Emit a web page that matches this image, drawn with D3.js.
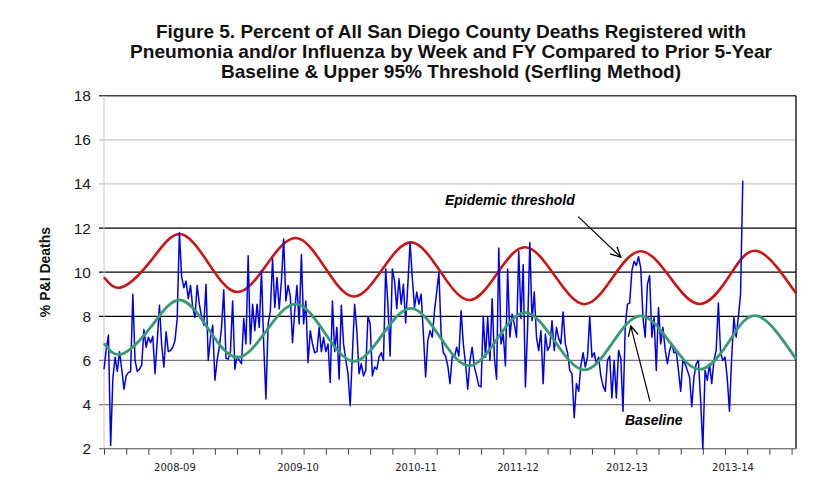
<!DOCTYPE html>
<html>
<head>
<meta charset="utf-8">
<script src="https://cdn.jsdelivr.net/npm/d3@7"></script>
<style>
  body { margin: 0; background: #fff; }
  svg { display: block; font-family: Arial, "Liberation Sans", sans-serif; }
</style>
</head>
<body>
<svg id="chart" width="837" height="486"></svg>
<script>
// title, axis text
const titleLines = [
  "Figure 5. Percent of All San Diego County Deaths Registered with",
  "Pneumonia and/or Influenza by Week and FY Compared to Prior 5-Year",
  "Baseline & Upper 95% Threshold (Serfling Method)"
];
const yLabel = "% P&I Deaths";
const yTicks = [2, 4, 6, 8, 10, 12, 14, 16, 18];

// fiscal year labels and the week they sit under
const fyLabels = ["2008-09", "2009-10", "2010-11", "2011-12", "2012-13", "2013-14"];
const fyLabelWeeks = [32, 87.5, 140.7, 186.7, 235.8, 283.6];

// weekly % of deaths with P&I (week 0 = first week on the chart)
const pniPercent = [
  5.6, 6.5, 7.15, 2.15, 5.2, 6.15, 5.5, 6.4, 5.6, 4.7,
  5.3, 5.45, 5.5, 9.0, 6.0, 5.5, 5.6, 5.8, 7.4, 6.6,
  7.05, 6.8, 7.1, 5.4, 6.9, 8.5, 6.7, 5.7, 7.3, 6.4,
  6.45, 6.6, 6.9, 7.9, 11.8, 9.8, 9.3, 9.6, 8.8, 9.4,
  8.4, 7.95, 9.4, 8.55, 7.95, 7.6, 9.45, 6.0, 7.0, 7.6,
  5.1, 6.0, 6.6, 7.5, 9.2, 6.1, 6.06, 6.4, 8.7, 5.6,
  6.2, 6.0, 5.85, 7.9, 6.75, 10.75, 6.75, 8.55, 7.35, 8.55,
  7.5, 10.07, 6.75, 4.25, 7.65, 8.25, 10.6, 8.4, 9.76, 8.33,
  9.6, 11.5, 8.7, 9.4, 8.9, 6.8, 8.25, 9.4, 7.65, 10.8,
  7.65, 8.7, 5.9, 7.35, 6.75, 6.35, 6.4, 7.5, 6.4, 7.05,
  6.4, 6.75, 5.0, 8.7, 6.4, 7.5, 5.15, 8.5, 6.75, 6.05,
  5.4, 3.95, 6.3, 8.55, 7.35, 5.4, 5.85, 5.3, 5.55, 8.0,
  7.65, 5.3, 5.7, 5.6, 6.15, 6.35, 6.0, 10.15, 8.55, 6.2,
  10.15, 9.6, 8.35, 9.7, 8.55, 9.45, 7.7, 9.45, 11.35, 9.75,
  8.4, 9.1, 8.55, 9.0, 7.2, 5.25, 6.9, 7.35, 7.05, 8.25,
  9.1, 10.0, 7.2, 6.35, 6.2, 5.75, 4.95, 6.2, 6.15, 6.6,
  6.2, 8.25, 6.75, 5.85, 4.7, 6.0, 6.6, 5.7, 5.3, 4.85,
  4.8, 8.0, 6.15, 7.95, 6.0, 8.8, 6.15, 5.15, 11.1, 6.75,
  7.2, 5.75, 10.15, 7.05, 8.1, 7.65, 7.05, 10.95, 7.9, 10.35,
  4.8, 7.5, 11.35, 7.8, 9.1, 7.05, 6.45, 7.35, 4.95, 7.2,
  6.45, 6.65, 7.8, 6.45, 7.5, 7.0, 6.75, 8.2, 6.75, 6.35,
  5.55, 5.4, 3.4, 4.95, 4.6, 5.75, 6.35, 5.7, 6.15, 8.0,
  6.15, 6.35, 5.85, 6.15, 5.3, 4.85, 4.6, 6.0, 6.2, 4.3,
  6.0, 4.3, 6.45, 6.1, 3.7, 7.5, 8.55, 8.6, 10.07, 10.5,
  10.3, 10.7, 10.2, 7.95, 7.05, 9.45, 9.85, 7.05, 7.95, 5.55,
  8.4, 6.75, 7.5, 6.5, 5.85, 6.45, 6.75, 6.35, 6.4, 5.55,
  4.6, 6.0, 5.85, 5.55, 5.25, 3.9, 5.25, 5.85, 6.0, 4.2,
  2.0, 5.55, 5.1, 5.85, 4.95, 6.0, 6.45, 8.6, 6.35, 6.0,
  6.15, 5.2, 3.7, 6.15, 7.95, 7.05, 7.95, 9.0, 14.15
];

// Serfling curves read at peaks, troughs and the crossings between them
const curveWeeks = [0, 8, 21, 34, 47, 60, 73.25, 86.5, 99.5, 112.5, 125.5, 138.5,
  151.5, 164.5, 177.25, 190, 203.25, 216.5, 229.25, 242, 255.25, 268.5, 281.5, 294.5, 312];
const baseline = [6.78, 6.29, 7.5, 8.74, 7.44, 6.14, 7.35, 8.55, 7.26, 5.96, 7.16, 8.36,
  7.06, 5.76, 6.97, 8.17, 6.87, 5.57, 6.8, 8.02, 6.81, 5.6, 6.81, 8.02, 6.07];
const threshold = [9.77, 9.32, 10.5, 11.73, 10.42, 9.1, 10.33, 11.55, 10.23, 8.9, 10.13, 11.35,
  10.05, 8.74, 9.94, 11.13, 9.84, 8.55, 9.75, 10.95, 9.76, 8.56, 9.76, 10.96, 9.04];

const svg = d3.select("#chart");

const x = d3.scaleLinear().domain([0, 312]).range([104, 796]);
const y = d3.scaleLinear().domain([2, 18]).range([448.7, 95.7]);

// title
svg.append("g")
  .selectAll("text")
  .data(titleLines)
  .enter()
  .append("text")
  .attr("x", 451)
  .attr("y", (d, i) => 37.7 + i * 20)
  .attr("text-anchor", "middle")
  .style("font-family", "'Liberation Sans Narrow', 'Arial Narrow', 'Liberation Sans', Arial, sans-serif")
  .style("font-weight", "bold")
  .style("font-size", "18.5px")
  .attr("textLength", (d, i) => [590, 642, 460][i])
  .attr("lengthAdjust", "spacingAndGlyphs")
  .attr("fill", "#111")
  .text((d) => d);

// horizontal grid
function gridColor(v) {
  if (v == 18) return "#404040";
  if (v >= 14) return "#c8c8c8";
  if (v >= 8) return "#000";
  if (v >= 4) return "#7a7a7a";
  return "#999";
}

svg.append("g")
  .selectAll("line")
  .data(yTicks)
  .enter()
  .append("line")
  .attr("x1", 99)
  .attr("x2", 796)
  .attr("y1", (d) => y(d))
  .attr("y2", (d) => y(d))
  .attr("stroke", gridColor)
  .attr("stroke-width", (d) => (d == 18 ? 1.6 : 1.2));

// left axis line (light) and right border
svg.append("line")
  .attr("x1", 104).attr("x2", 104)
  .attr("y1", y(18)).attr("y2", y(2))
  .attr("stroke", "#c8c8c8");
svg.append("line")
  .attr("x1", 796).attr("x2", 796)
  .attr("y1", y(18)).attr("y2", y(2))
  .attr("stroke", "#000")
  .attr("stroke-width", 1.3);

// y tick labels
svg.append("g")
  .selectAll("text")
  .data(yTicks)
  .enter()
  .append("text")
  .attr("x", 91)
  .attr("y", (d) => y(d) + 5.5)
  .attr("text-anchor", "end")
  .style("font-size", "15.5px")
  .attr("fill", "#1a1a1a")
  .text((d) => d);

svg.append("text")
  .attr("transform", "translate(50," + 272 + ") rotate(-90)")
  .attr("text-anchor", "middle")
  .style("font-size", "14px")
  .style("font-weight", "bold")
  .attr("fill", "#111")
  .text(yLabel);

// x axis ticks
const xAxis = d3.axisBottom(x)
  .tickValues(d3.range(0, 312, 10))
  .tickSize(6)
  .tickFormat("");
const gx = svg.append("g")
  .attr("transform", "translate(0," + y(2) + ")")
  .call(xAxis);
gx.select(".domain").attr("stroke", "#777").attr("d", "M99,0H796");
gx.selectAll(".tick line").attr("stroke", "#444");

svg.append("g")
  .selectAll("text")
  .data(fyLabels)
  .enter()
  .append("text")
  .attr("x", (d, i) => x(fyLabelWeeks[i]))
  .attr("y", 471)
  .attr("text-anchor", "middle")
  .style("font-family", "'DejaVu Sans', Verdana, sans-serif")
  .style("font-size", "10px")
  .attr("fill", "#222")
  .text((d) => d);

// series
const smooth = d3.line()
  .x((d, i) => x(curveWeeks[i]))
  .y((d) => y(d))
  .curve(d3.curveNatural);

svg.append("path")
  .attr("d", smooth(threshold))
  .attr("fill", "none")
  .attr("stroke", "#cc1414")
  .attr("stroke-width", 2.6);

svg.append("path")
  .attr("d", d3.line().x((d, i) => x(i)).y((d) => y(d))(pniPercent))
  .attr("fill", "none")
  .attr("stroke", "#0000f0")
  .attr("stroke-width", 1.5)
  .attr("stroke-linejoin", "round");

svg.append("path")
  .attr("d", smooth(baseline))
  .attr("fill", "none")
  .attr("stroke", "#3a9a70")
  .attr("stroke-width", 2.8);

// annotations
const defs = svg.append("defs");
defs.append("marker")
  .attr("id", "arrow")
  .attr("viewBox", "0 0 12 12")
  .attr("refX", 11)
  .attr("refY", 6)
  .attr("markerWidth", 12)
  .attr("markerHeight", 12)
  .attr("markerUnits", "userSpaceOnUse")
  .attr("orient", "auto")
  .append("path")
  .attr("d", "M1,1 L11,6 L1,11")
  .attr("fill", "none")
  .attr("stroke", "#000")
  .attr("stroke-width", 1.3);

svg.append("text")
  .attr("x", x(153.7))
  .attr("y", y(13.04))
  .style("font-size", "14px")
  .style("font-weight", "bold")
  .style("font-style", "italic")
  .attr("fill", "#000")
  .text("Epidemic threshold");

svg.append("line")
  .attr("x1", x(213.8)).attr("y1", y(12.52))
  .attr("x2", x(233)).attr("y2", y(10.68))
  .attr("stroke", "#000")
  .attr("stroke-width", 1.2)
  .attr("marker-end", "url(#arrow)");

svg.append("text")
  .attr("x", x(234.9))
  .attr("y", y(3.07))
  .style("font-size", "14px")
  .style("font-weight", "bold")
  .style("font-style", "italic")
  .attr("fill", "#000")
  .text("Baseline");

svg.append("line")
  .attr("x1", x(246.2)).attr("y1", y(4.13))
  .attr("x2", x(237.5)).attr("y2", y(7.56))
  .attr("stroke", "#000")
  .attr("stroke-width", 1.2)
  .attr("marker-end", "url(#arrow)");
</script>
</body>
</html>
